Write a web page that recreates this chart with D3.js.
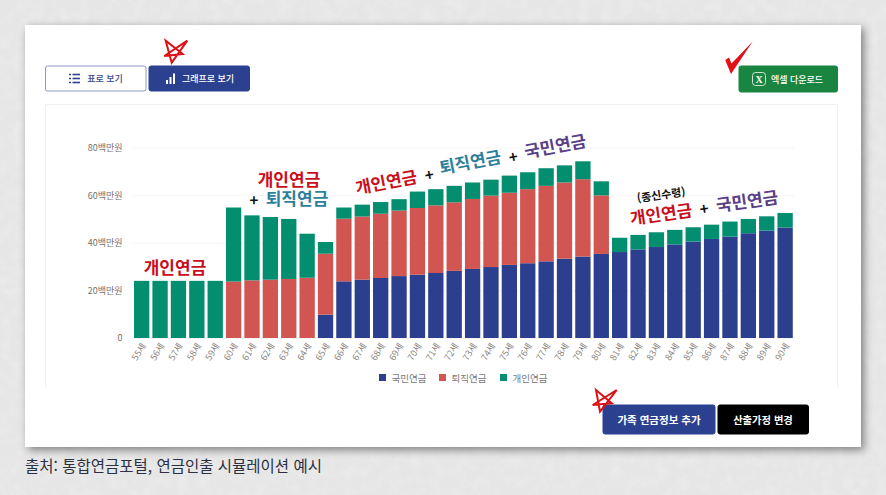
<!DOCTYPE html>
<html lang="ko">
<head>
<meta charset="utf-8">
<script src="https://cdn.jsdelivr.net/npm/d3@7"></script>
<style>
  html, body { margin: 0; padding: 0; background: #e8e8e8; overflow: hidden; }
  svg { display: block; }
  text { font-family: "Noto Sans CJK KR", "Noto Sans", sans-serif; }
  .domain { display: none; }
</style>
</head>
<body>
<div id="my_chart"></div>
<script>
// values, in 백만원
const ages = ["55세","56세","57세","58세","59세","60세","61세","62세","63세","64세","65세","66세",
  "67세","68세","69세","70세","71세","72세","73세","74세","75세","76세","77세","78세","79세","80세",
  "81세","82세","83세","84세","85세","86세","87세","88세","89세","90세"];
const national = [0,0,0,0,0,0,0,0,0,0,9.8,23.8,
  24.5,25.2,26,26.6,27.3,28.2,29,29.8,30.7,31.4,32.2,33.3,34.2,35.3,
  36.1,37.2,38.2,39.3,40.5,41.6,42.6,44,45.1,46.4];
const retirement = [0,0,0,0,0,23.7,24.2,24.5,24.8,25.3,25.6,26.3,
  26.5,27,27.5,28,28.4,28.8,29.4,30,30.3,31.1,31.7,32,32.5,24.6,
  0,0,0,0,0,0,0,0,0,0];
const personal = [24,24,24,24,24,31.1,27.3,26.3,25.2,18.5,4.9,4.7,
  5,4.9,4.8,6.9,6.8,6.9,6.9,6.7,7.2,7.1,7.4,7.2,7.5,5.9,
  6,6.1,6.2,6.1,6,6,6.3,6,6,6.1];
const seriesNames = ["국민연금","퇴직연금","개인연금"];
const seriesColors = ["#2b3f8e","#d15550","#038e70"];
const yTicks = [0,20,40,60,80];

const width = 886, height = 495;
const plot = {left: 132.5, right: 794.3, top: 147.5, bottom: 338};

const svg = d3.select("#my_chart").append("svg")
  .attr("width", width)
  .attr("height", height);

// card shadow + paper texture
const defs = svg.append("defs");
const shadow = defs.append("filter").attr("id", "cardshadow")
  .attr("x", "-5%").attr("y", "-5%").attr("width", "112%").attr("height", "112%");
shadow.append("feDropShadow")
  .attr("dx", 3).attr("dy", 3).attr("stdDeviation", 4)
  .attr("flood-color", "#000").attr("flood-opacity", 0.45);

const paper = defs.append("filter").attr("id", "paper")
  .attr("x", 0).attr("y", 0).attr("width", "100%").attr("height", "100%");
paper.append("feTurbulence")
  .attr("type", "fractalNoise").attr("baseFrequency", 0.09).attr("numOctaves", 3).attr("seed", 4);
paper.append("feColorMatrix")
  .attr("type", "matrix")
  .attr("values", "0 0 0 0 1  0 0 0 0 1  0 0 0 0 1  0 0 0 0.4 -0.16");

svg.append("rect").attr("width", width).attr("height", height).attr("fill", "#e6e6e6");
svg.append("rect").attr("width", width).attr("height", height).attr("filter", "url(#paper)");
svg.append("rect")
  .attr("x", 25).attr("y", 25).attr("width", 836).attr("height", 422)
  .attr("fill", "#fff")
  .attr("filter", "url(#cardshadow)");

// chart box, open at the bottom
svg.append("path")
  .attr("d", "M45.5,388V104.5H837.5V388")
  .attr("fill", "none")
  .attr("stroke", "#f1f1f1");

// scales
const x = d3.scaleBand()
  .domain(ages)
  .range([plot.left, plot.right])
  .paddingInner(0.167)
  .paddingOuter(0.083);
const y = d3.scaleLinear()
  .domain([0, 80])
  .range([plot.bottom, plot.top]);

// y axis with the gridlines
svg.append("g")
  .attr("transform", `translate(${plot.left}, 0)`)
  .call(d3.axisLeft(y)
    .tickValues(yTicks)
    .tickSize(-(plot.right - plot.left))
    .tickPadding(10)
    .tickFormat(d => d === 0 ? "0" : d + "백만원"))
  .call(g => g.selectAll(".tick line").attr("stroke", "#f5f5f5"))
  .call(g => g.selectAll(".tick text")
    .attr("fill", "#77706c")
    .attr("font-size", 9));

// stacked bars
const rows = ages.map((a, i) => ({age: a, 국민연금: national[i], 퇴직연금: retirement[i], 개인연금: personal[i]}));
const stacked = d3.stack().keys(seriesNames)(rows);

svg.append("g").selectAll("g")
  .data(stacked)
  .join("g")
    .attr("fill", (d, i) => seriesColors[i])
  .selectAll("rect")
  .data(d => d)
  .join("rect")
    .attr("x", d => x(d.data.age))
    .attr("y", d => y(d[1]))
    .attr("width", x.bandwidth())
    .attr("height", d => y(d[0]) - y(d[1]));

// x axis, rotated ages
svg.append("g")
  .attr("transform", `translate(0, ${plot.bottom})`)
  .call(d3.axisBottom(x).tickSize(0).tickPadding(6))
  .selectAll("text")
    .attr("fill", "#8a8580")
    .attr("font-size", 9)
    .attr("text-anchor", "end")
    .attr("dx", "1px")
    .attr("dy", "5px")
    .attr("transform", function() {
      const t = d3.select(this);
      return `rotate(-58, 0, ${+t.attr("y") || 6})`;
    });

// legend
const legendX = [379, 439, 500];
const legend = svg.append("g").selectAll("g")
  .data(seriesNames)
  .join("g")
    .attr("transform", (d, i) => `translate(${legendX[i]}, 374)`);
legend.append("rect")
  .attr("width", 7).attr("height", 7)
  .attr("fill", (d, i) => seriesColors[i]);
legend.append("text")
  .attr("x", 12.5).attr("y", 7.5)
  .attr("font-size", 9.5)
  .attr("fill", "#777")
  .text(d => d);

// hand placed annotations
const red = "#c8101c", teal = "#2d7f9b", purple = "#5a4086";
const notes = [
  {t: "개인연금", x: 175, y: 266, r: 0, c: red, s: 17},
  {t: "개인연금", x: 289, y: 178, r: 0, c: red, s: 17},
  {t: "+", x: 254, y: 199, r: 0, c: "#111", s: 15},
  {t: "퇴직연금", x: 297, y: 197, r: 0, c: teal, s: 17},
  {t: "개인연금", x: 386, y: 181, r: -11, c: red, s: 17},
  {t: "+", x: 429, y: 174, r: -11, c: "#111", s: 15},
  {t: "퇴직연금", x: 470, y: 161, r: -11, c: teal, s: 17},
  {t: "+", x: 513, y: 156, r: -11, c: "#111", s: 15},
  {t: "국민연금", x: 555, y: 145, r: -11, c: purple, s: 17},
  {t: "(종신수령)", x: 661, y: 194, r: -8, c: "#111", s: 11},
  {t: "개인연금", x: 661, y: 213, r: -8, c: red, s: 17},
  {t: "+", x: 704, y: 208, r: -8, c: "#111", s: 15},
  {t: "국민연금", x: 747, y: 200, r: -8, c: purple, s: 17}
];
svg.append("g").selectAll("text")
  .data(notes)
  .join("text")
    .attr("transform", d => `translate(${d.x}, ${d.y}) rotate(${d.r})`)
    .attr("text-anchor", "middle")
    .attr("dominant-baseline", "central")
    .attr("font-size", d => d.s)
    .attr("font-weight", 700)
    .attr("fill", d => d.c)
    .text(d => d.t);

// buttons
const buttons = [
  {t: "표로 보기", x: 45.5, y: 66, w: 100.5, h: 25, fill: "#fff", stroke: "#8a97c6", c: "#3a4a8c", tx: 105, s: 9, fw: 500},
  {t: "그래프로 보기", x: 149, y: 66, w: 100.5, h: 25, fill: "#2b4190", stroke: "#2b4190", c: "#fff", tx: 208, s: 9, fw: 500},
  {t: "엑셀 다운로드", x: 739, y: 66, w: 98.5, h: 26, fill: "#1a8541", stroke: "#1a8541", c: "#fff", tx: 797, s: 9, fw: 500},
  {t: "가족 연금정보 추가", x: 603, y: 405, w: 112, h: 29, fill: "#2b4190", stroke: "#2b4190", c: "#fff", tx: 659, s: 10.5, fw: 700},
  {t: "산출가정 변경", x: 718, y: 405, w: 90.5, h: 29, fill: "#000", stroke: "#000", c: "#fff", tx: 763, s: 10.3, fw: 700}
];
const btn = svg.append("g").selectAll("g").data(buttons).join("g");
btn.append("rect")
  .attr("x", d => d.x).attr("y", d => d.y)
  .attr("width", d => d.w).attr("height", d => d.h)
  .attr("rx", 2)
  .attr("fill", d => d.fill)
  .attr("stroke", d => d.stroke);
btn.append("text")
  .attr("x", d => d.tx)
  .attr("y", d => d.y + d.h / 2)
  .attr("text-anchor", "middle")
  .attr("dominant-baseline", "central")
  .attr("font-size", d => d.s)
  .attr("font-weight", d => d.fw)
  .attr("fill", d => d.c)
  .text(d => d.t);

// button icons
const listIcon = svg.append("g").attr("stroke", "#2b4190").attr("stroke-width", 1.6);
[74.5, 78.5, 82.5].forEach(py => {
  listIcon.append("line").attr("x1", 69).attr("x2", 71).attr("y1", py).attr("y2", py);
  listIcon.append("line").attr("x1", 72.5).attr("x2", 80).attr("y1", py).attr("y2", py);
});
const barIcon = svg.append("g").attr("fill", "#fff");
[[166, 80, 2, 4], [169.5, 77, 2, 7], [173, 73.5, 2, 10.5]].forEach(b => {
  barIcon.append("rect").attr("x", b[0]).attr("y", b[1]).attr("width", b[2]).attr("height", b[3]);
});
svg.append("rect")
  .attr("x", 752.5).attr("y", 72.5).attr("width", 13).attr("height", 13).attr("rx", 3)
  .attr("fill", "none").attr("stroke", "#cfe6d6");
svg.append("text")
  .attr("x", 759).attr("y", 79.2)
  .attr("text-anchor", "middle").attr("dominant-baseline", "central")
  .attr("font-size", 10).attr("font-weight", 700).attr("fill", "#fff")
  .style("font-family", "'Liberation Serif', serif")
  .text("X");

// red pen marks
const star = "M165.7,40.7L171.7,62.7L187.3,40.7L164.3,56L182.7,54Z";
const star2 = "M596,390L600,411.7L616.7,390L592.7,405L611.7,403.3Z";
svg.append("path").attr("d", star).attr("fill", "none").attr("stroke", "#dd1016").attr("stroke-width", 2);
svg.append("path").attr("d", star2).attr("fill", "none").attr("stroke", "#dd1016").attr("stroke-width", 2);
svg.append("path")
  .attr("d", "M725.2,60L729,57.5L731.5,63.5L752.7,41.5L731,74Z")
  .attr("fill", "#e3101a");

// source line
svg.append("text")
  .attr("x", 25).attr("y", 471.5)
  .attr("font-size", 15.5)
  .attr("fill", "#2b3044")
  .text("출처: 통합연금포털, 연금인출 시뮬레이션 예시");
</script>
</body>
</html>
